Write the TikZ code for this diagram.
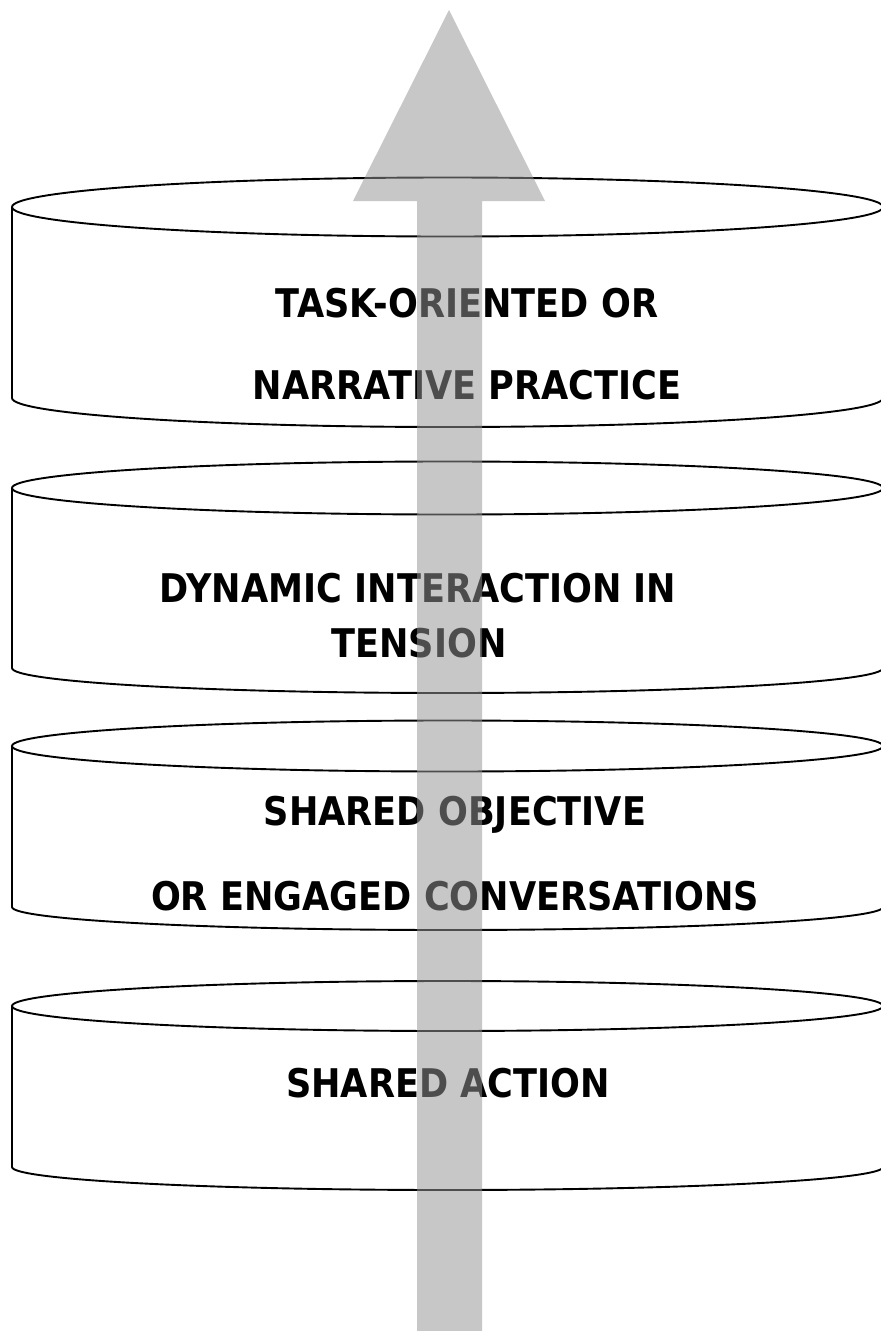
\documentclass[tikz,border=0pt]{standalone}
\usepackage{fontspec}
\setmainfont{DejaVu Sans}[FakeStretch=0.89]
\begin{document}
\begin{tikzpicture}[x=1pt,y=-1pt,
  cyl/.style={draw=black,line width=1.9pt,fill=white},
  lbl/.style={anchor=base,inner sep=0pt,font=\fontsize{39.5}{39.5}\selectfont\bfseries},
  uparrow/.style={fill={rgb,255:red,148;green,148;blue,148},fill opacity=0.52,draw=none}]
\useasboundingbox (0,0) rectangle (881,1331);
\fill[white] (0,0) rectangle (881,1331);
% cylinders: {top centre y}{top ry}{bottom centre y}{bottom ry}
\foreach \t/\rt/\b/\rb in {207/29.5/398/29, 488/26.5/668/25, 746/25.5/907/23, 1006/25/1167/23}{
  \draw[cyl] (12,\t) -- (12,\b) arc[start angle=180,end angle=0,x radius=435.5,y radius=\rb] -- (883,\t);
  \draw[cyl] (447.5,\t) ellipse[x radius=435.5,y radius=\rt];
}
% labels
\node[lbl] (t1a) at (467,317) {TASK-ORIENTED OR};
\node[lbl] (t1b) at (467,399) {NARRATIVE PRACTICE};
\node[lbl] (t2a) at (418,602) {DYNAMIC INTERACTION IN};
\node[lbl] (t2b) at (419,657) {TENSION};
\node[lbl] (t3a) at (455,825) {SHARED OBJECTIVE};
\node[lbl] (t3b) at (455,910) {OR ENGAGED CONVERSATIONS};
\node[lbl] (t4) at (448,1097) {SHARED ACTION};
% arrow
\fill[uparrow] (449,10) -- (545,201) -- (482,201) -- (482,1331) -- (417,1331) -- (417,201) -- (353,201) -- cycle;
\end{tikzpicture}
\end{document}
